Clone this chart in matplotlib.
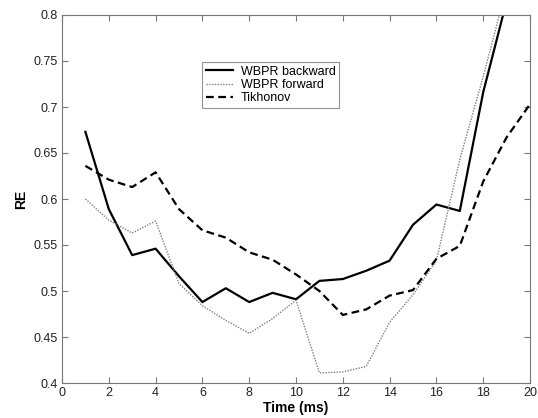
import matplotlib
matplotlib.use("Agg")
import matplotlib.pyplot as plt

plt.rcParams['font.family'] = ['Liberation Sans', 'DejaVu Sans']

# data
time_ms = [1, 2, 3, 4, 5, 6, 7, 8, 9, 10, 11, 12, 13, 14, 15, 16, 17, 18, 19, 20]
wbpr_backward = [0.673, 0.589, 0.539, 0.546, 0.516, 0.488, 0.503, 0.488, 0.498, 0.491,
                 0.511, 0.513, 0.522, 0.533, 0.572, 0.594, 0.587, 0.716, 0.815, 0.9]
wbpr_forward = [0.600, 0.577, 0.563, 0.576, 0.508, 0.484, 0.468, 0.454, 0.470, 0.490,
                0.411, 0.412, 0.418, 0.466, 0.496, 0.533, 0.643, 0.733, 0.83, 0.92]
tikhonov = [0.636, 0.621, 0.613, 0.629, 0.589, 0.566, 0.558, 0.542, 0.534, 0.518,
            0.500, 0.474, 0.480, 0.495, 0.501, 0.535, 0.549, 0.619, 0.667, 0.703]

fig = plt.figure(figsize=(5.38, 4.18), dpi=100)
ax = fig.add_axes([62/538, 35/418, 468/538, 368/418])

ax.plot(time_ms, wbpr_backward, color='black', linestyle='solid', linewidth=1.6, label='WBPR backward')
ax.plot(time_ms, wbpr_forward, color='#808080', linestyle=(0, (1, 1)), linewidth=1.0, label='WBPR forward')
ax.plot(time_ms, tikhonov, color='black', linestyle=(0, (3.5, 2)), linewidth=1.6, label='Tikhonov')

ax.set_xlim(0, 20)
ax.set_ylim(0.4, 0.8)
ax.set_xticks(range(0, 21, 2))
ax.set_yticks([0.4, 0.45, 0.5, 0.55, 0.6, 0.65, 0.7, 0.75, 0.8])
ax.set_yticklabels(['0.4', '0.45', '0.5', '0.55', '0.6', '0.65', '0.7', '0.75', '0.8'])
ax.tick_params(direction='in', top=True, right=True, length=4, color='#777777',
               labelsize=9, labelcolor='#222222', pad=3)
for s in ax.spines.values():
    s.set_color('#777777')
    s.set_linewidth(0.8)

ax.set_xlabel('Time (ms)', fontsize=10, fontweight='bold', labelpad=1)
ax.set_ylabel('RE', fontsize=10, fontweight='bold', labelpad=4)

leg = ax.legend(loc='upper left', bbox_to_anchor=(202/538, 1 - 62/418), bbox_transform=fig.transFigure,
                fontsize=9, frameon=True, fancybox=False, borderpad=0.3, labelspacing=0.1,
                handlelength=2.2, handletextpad=0.6, borderaxespad=0)
leg.get_frame().set_edgecolor('#777777')
leg.get_frame().set_linewidth(0.8)

plt.savefig('out.png', dpi=100)
